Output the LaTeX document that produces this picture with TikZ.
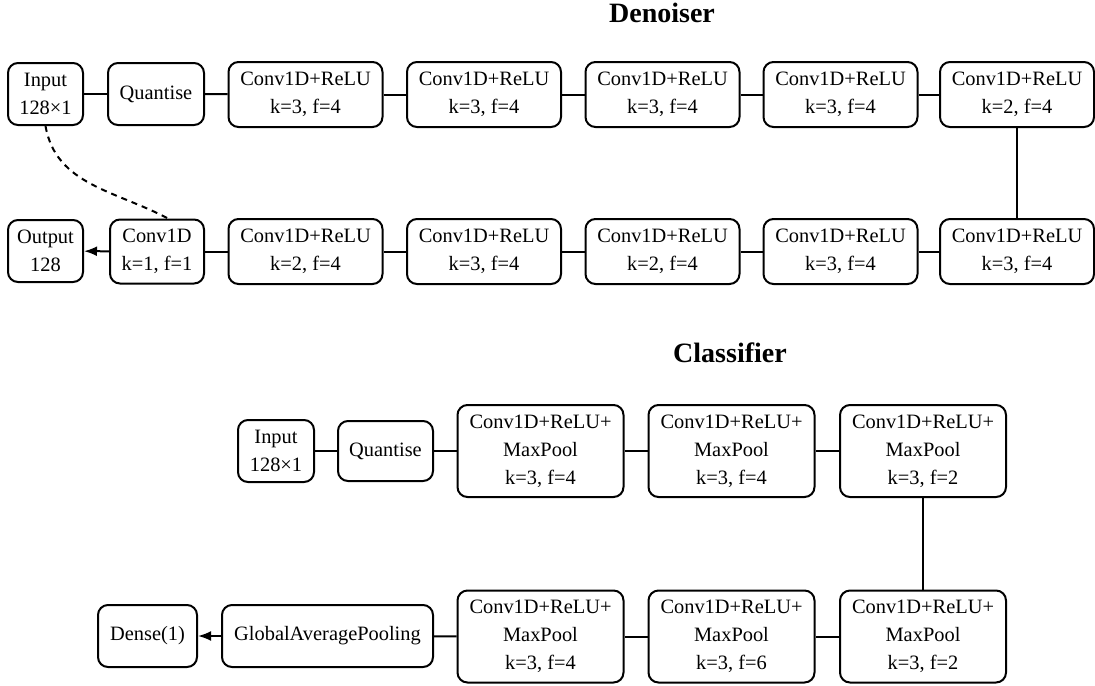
\documentclass[tikz,border=0pt]{standalone}
\usepackage{fontspec}
\setmainfont{Liberation Serif}
\usetikzlibrary{arrows.meta}
\begin{document}
\begin{tikzpicture}[x=0.5pt,y=-0.5pt,
  box/.style={draw, rounded corners=5pt, line width=1pt, align=center, inner sep=0pt,
    font=\fontsize{10.2}{14}\selectfont},
  small/.style={box, minimum width=37.5pt, minimum height=31pt},
  qbox/.style={box, minimum width=48pt, minimum height=31pt},
  dconv/.style={box, minimum width=77pt, minimum height=32.5pt},
  cconv/.style={box, minimum width=83pt, minimum height=46pt},
  title/.style={font=\fontsize{14}{16}\selectfont\bfseries},
  link/.style={line width=1pt},
  arr/.style={line width=1pt, -{Latex[length=6.5pt,width=5pt]}},
  skip/.style={line width=1pt, dash pattern=on 3pt off 2.5pt}
]
\useasboundingbox (0,0) rectangle (1095,685);
% titles
\node[title] (tden) at (662,13) {Denoiser};
\node[title] (tcls) at (730,353) {Classifier};
% Denoiser top row
\node[small] (in1) at (45.5,94) {Input\\128×1};
\node[qbox] (q1) at (156,94) {Quantise};
\node[dconv] (c1) at (305.5,94.5) {Conv1D+ReLU\\k=3, f=4};
\node[dconv] (c2) at (484,94.5) {Conv1D+ReLU\\k=3, f=4};
\node[dconv] (c3) at (662.5,94.5) {Conv1D+ReLU\\k=3, f=4};
\node[dconv] (c4) at (840.5,94.5) {Conv1D+ReLU\\k=3, f=4};
\node[dconv] (c5) at (1017,94.5) {Conv1D+ReLU\\k=2, f=4};
% Denoiser bottom row
\node[small] (out) at (45.5,251) {Output\\128};
\node[qbox, minimum width=47pt, minimum height=32pt] (c1d) at (157,251.5) {Conv1D\\k=1, f=1};
\node[dconv] (d1) at (305.5,251.5) {Conv1D+ReLU\\k=2, f=4};
\node[dconv] (d2) at (484,251.5) {Conv1D+ReLU\\k=3, f=4};
\node[dconv] (d3) at (662.5,251.5) {Conv1D+ReLU\\k=2, f=4};
\node[dconv] (d4) at (840.5,251.5) {Conv1D+ReLU\\k=3, f=4};
\node[dconv] (d5) at (1017,251.5) {Conv1D+ReLU\\k=3, f=4};
% Classifier top row
\node[small, minimum width=38pt] (in2) at (276,451) {Input\\128×1};
\node[qbox, minimum width=47.5pt, minimum height=30pt] (q2) at (385.5,451) {Quantise};
\node[cconv] (cc1) at (540.5,451) {Conv1D+ReLU+\\MaxPool\\k=3, f=4};
\node[cconv] (cc2) at (731.5,451) {Conv1D+ReLU+\\MaxPool\\k=3, f=4};
\node[cconv] (cc3) at (923,451) {Conv1D+ReLU+\\MaxPool\\k=3, f=2};
% Classifier bottom row
\node[small, minimum width=49.5pt] (dense) at (147.5,636) {Dense(1)};
\node[small, minimum width=105.5pt] (gap) at (327.5,636) {GlobalAveragePooling};
\node[cconv] (cc4) at (540.5,636.5) {Conv1D+ReLU+\\MaxPool\\k=3, f=4};
\node[cconv] (cc5) at (731.5,636.5) {Conv1D+ReLU+\\MaxPool\\k=3, f=6};
\node[cconv] (cc6) at (923,636.5) {Conv1D+ReLU+\\MaxPool\\k=3, f=2};
% Denoiser connectors
\draw[link] (in1) -- (q1);
\draw[link] (q1) -- (c1);
\draw[link] (c1) -- (c2);
\draw[link] (c2) -- (c3);
\draw[link] (c3) -- (c4);
\draw[link] (c4) -- (c5);
\draw[link] (c5) -- (d5);
\draw[link] (d5) -- (d4);
\draw[link] (d4) -- (d3);
\draw[link] (d3) -- (d2);
\draw[link] (d2) -- (d1);
\draw[link] (d1) -- (c1d);
\draw[arr] (c1d) -- (out);
\coordinate (skipend) at ([xshift=5.5pt]c1d.north);
\draw[skip] (in1.south) to[out=-80, in=152] (skipend);
% Classifier connectors
\draw[link] (in2) -- (q2);
\draw[link] (q2) -- (cc1);
\draw[link] (cc1) -- (cc2);
\draw[link] (cc2) -- (cc3);
\draw[link] (cc3) -- (cc6);
\draw[link] (cc6) -- (cc5);
\draw[link] (cc5) -- (cc4);
\draw[link] (cc4) -- (gap);
\draw[arr] (gap) -- (dense);
\end{tikzpicture}
\end{document}
